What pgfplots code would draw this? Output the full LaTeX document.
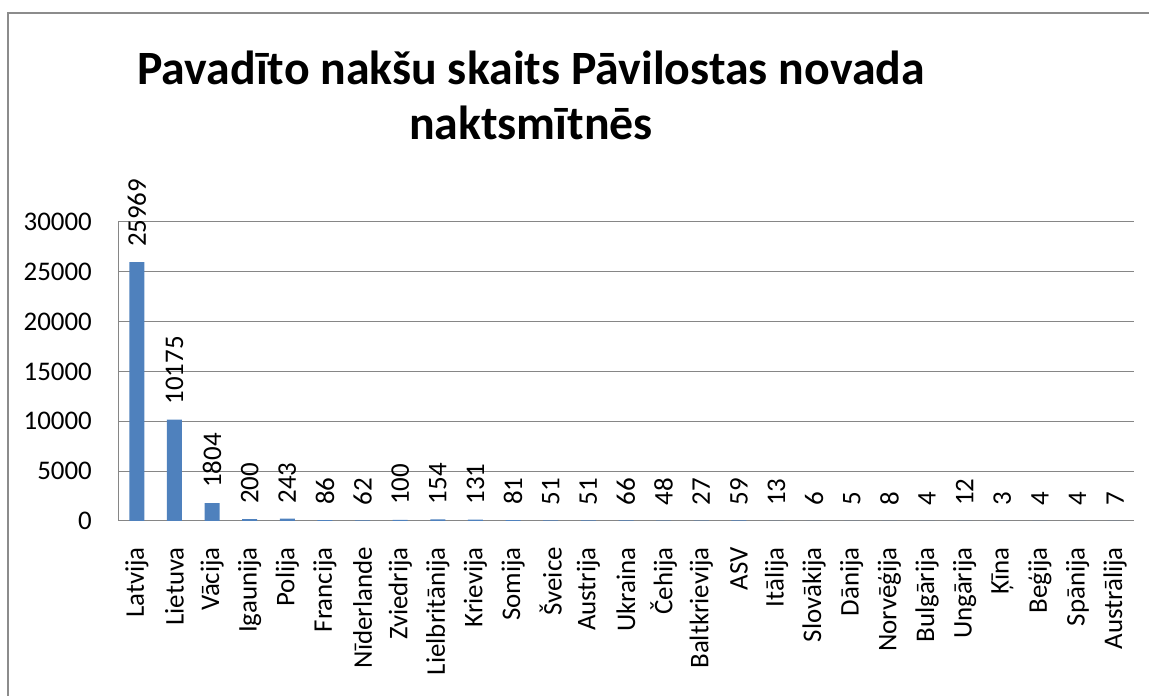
\documentclass[border=0pt]{standalone}
\usepackage{pgfplots}
\pgfplotsset{compat=1.18}
\usepackage{fontspec}
\setmainfont{Carlito}
\definecolor{barblue}{RGB}{79,129,189}
\definecolor{gridgray}{RGB}{134,134,134}
\begin{document}
\begin{tikzpicture}[x=1bp,y=1bp]
\path[use as bounding box] (0,0) rectangle (1149,696);
\draw[gray!90, line width=1.2bp] (8,0) -- (8,683) -- (1149,683);
\node[font=\fontsize{48}{55}\selectfont\bfseries, anchor=base] at (531,611) {Pavadīto nakšu skaits Pāvilostas novada};
\node[font=\fontsize{48}{55}\selectfont\bfseries, anchor=base] at (531,556) {naktsmītnēs};
\begin{axis}[
  at={(118bp,175bp)}, anchor=south west,
  scale only axis, width=1016bp, height=299bp,
  xmin=-0.5, xmax=26.5, ymin=0, ymax=30000,
  ytick={0,5000,...,30000},
  xtick={0,...,26},
  xticklabels={Latvija,Lietuva,Vācija,Igaunija,Polija,Francija,Nīderlande,Zviedrija,Lielbritānija,Krievija,Somija,Šveice,Austrija,Ukraina,Čehija,Baltkrievija,ASV,Itālija,Slovākija,Dānija,Norvēģija,Bulgārija,Ungārija,Ķīna,Beģija,Spānija,Austrālija},
  axis x line*=bottom, axis y line*=left,
  axis line style={gridgray, line width=1bp, -},
  ymajorgrids, grid style={gridgray, line width=1bp},
  major tick length=0pt,
  tick label style={font=\fontsize{27}{31}\selectfont},
  /pgf/number format/assume math mode=true,
  scaled y ticks=false,
  yticklabel style={/pgf/number format/fixed, /pgf/number format/1000 sep={}, inner sep=0pt},
  yticklabel shift=26bp,
  xticklabel style={rotate=90, anchor=east, inner sep=0pt},
  xticklabel shift=26bp,
  ybar, bar width=15bp,
  nodes near coords,
  nodes near coords style={font=\fontsize{27}{31}\selectfont, rotate=90, anchor=west, inner ysep=0pt, inner xsep=15bp, /pgf/number format/fixed, /pgf/number format/1000 sep={}},
  clip=false,
]
\addplot[fill=barblue, draw=none] coordinates {
(0,25969) (1,10175) (2,1804) (3,200) (4,243) (5,86) (6,62) (7,100) (8,154) (9,131)
(10,81) (11,51) (12,51) (13,66) (14,48) (15,27) (16,59) (17,13) (18,6) (19,5)
(20,8) (21,4) (22,12) (23,3) (24,4) (25,4) (26,7)
};
\end{axis}
\end{tikzpicture}
\end{document}
